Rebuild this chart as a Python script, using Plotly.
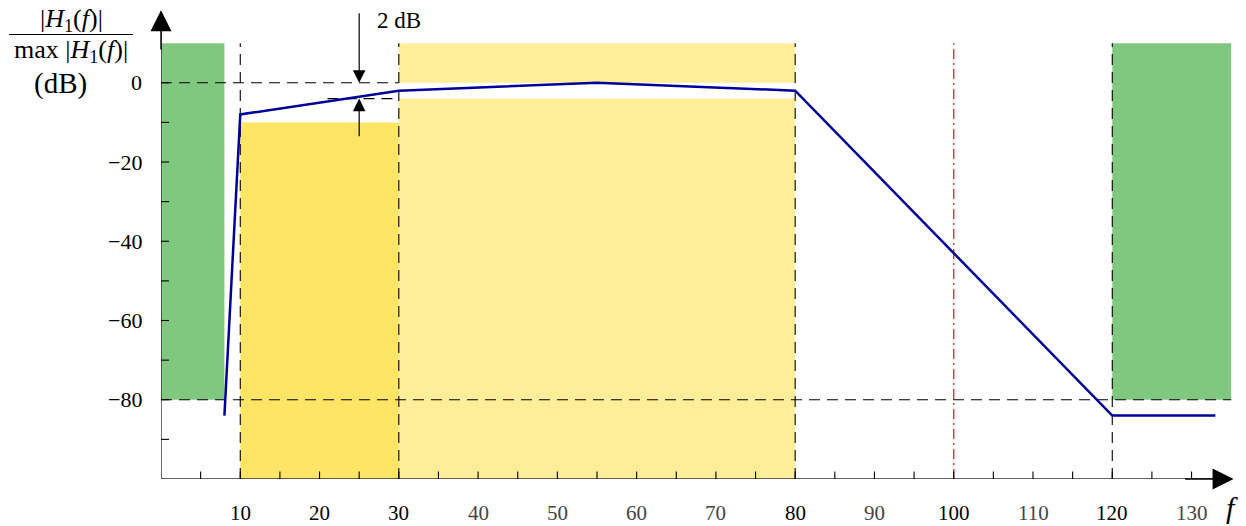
import plotly.graph_objects as go

# ---------------- data ----------------
freq = [8, 10, 30, 55, 80, 120, 133]
gain_db = [-84, -8, -2, 0, -2, -84, -84]

# stopband masks (green): x0, x1, y0, y1
stop_x0 = [0, 120]
stop_x1 = [8, 135]
stop_y0 = [-80, -80]
stop_y1 = [10, 10]

# passband masks (yellow)
pass_x0 = [10, 30, 30]
pass_x1 = [30, 80, 80]
pass_y0 = [-100, -100, 0]
pass_y1 = [-10, -4, 10]
pass_col = ["#FEE566", "#FEEE9A", "#FEEE9A"]

x_tick_labels = [10, 20, 30, 40, 50, 60, 70, 80, 90, 100, 110, 120, 130]
x_tick_strong = [10, 20, 30, 80, 100, 120]
x_minor = list(range(5, 131, 5))
y_tick_labels = [0, -20, -40, -60, -80]
y_minor = list(range(0, -91, -10))

vlines_dashed = [10, 30, 80, 120]
red_line_x = 100
ripple_db = -4

# ---------------- layout geometry ----------------
L, R, T, B = 161, 6, 8, 47
W, H = 1246, 526
pw, ph = W - L - R, H - T - B
px_per_x = 872 / 110.0
px_per_y = 317 / 80.0
xr = [0, pw / px_per_x]
yr = [-100, -100 + ph / px_per_y]

def pxx(px):
    return (px - L) / pw

def pxy(py):
    return (H - B - py) / ph

FONT = "Liberation Serif"
fig = go.Figure()
shapes = []
ann = []

for x0, x1, y0, y1 in zip(stop_x0, stop_x1, stop_y0, stop_y1):
    shapes.append(dict(type="rect", xref="x", yref="y", x0=x0, x1=x1, y0=y0, y1=y1,
                       fillcolor="#80C880", line=dict(width=0), layer="below"))
for x0, x1, y0, y1, c in zip(pass_x0, pass_x1, pass_y0, pass_y1, pass_col):
    shapes.append(dict(type="rect", xref="x", yref="y", x0=x0, x1=x1, y0=y0, y1=y1,
                       fillcolor=c, line=dict(width=0), layer="below"))

dash = dict(color="black", width=1.1, dash="11px,7px")
for xv in vlines_dashed:
    shapes.append(dict(type="line", xref="x", yref="y", x0=xv, x1=xv, y0=-100, y1=10,
                       line=dash, layer="below"))
shapes.append(dict(type="line", xref="x", yref="y", x0=0, x1=30, y0=0, y1=0, line=dash, layer="below"))
shapes.append(dict(type="line", xref="x", yref="y", x0=21, x1=30, y0=ripple_db, y1=ripple_db, line=dash, layer="below"))
shapes.append(dict(type="line", xref="x", yref="y", x0=0, x1=135, y0=-80, y1=-80, line=dash, layer="below"))

# red dash-dot line
shapes.append(dict(type="line", xref="x", yref="y", x0=red_line_x, x1=red_line_x, y0=-100, y1=10,
                   line=dict(color="#D42A2A", width=1.3, dash="10px,4px,2px,4px"), layer="below"))

# axes
axc = "#333333"
shapes.append(dict(type="line", xref="x", yref="y", x0=0, x1=134, y0=-100, y1=-100, line=dict(color=axc, width=1.4)))
shapes.append(dict(type="line", xref="x", yref="y", x0=0, x1=0, y0=-100, y1=16, line=dict(color=axc, width=1.4)))

tx = 7.5 / px_per_y
for xv in x_minor:
    shapes.append(dict(type="line", xref="x", yref="y", x0=xv, x1=xv, y0=-100 - tx, y1=-100 + tx,
                       line=dict(color="black", width=1.1)))
ty = 8 / px_per_x
for yv in y_minor:
    shapes.append(dict(type="line", xref="x", yref="y", x0=-ty, x1=ty, y0=yv, y1=yv,
                       line=dict(color="black", width=1.1)))

tiny = dict(size=1, color="black")
# axis arrows
ann.append(dict(x=135.3, y=-100, ax=129, ay=-100, xref="x", yref="y", axref="x", ayref="y",
                showarrow=True, arrowhead=2, arrowsize=3.0, arrowwidth=1.4, arrowcolor="black",
                text="", font=tiny))
ann.append(dict(x=0, y=18.3, ax=0, ay=8, xref="x", yref="y", axref="x", ayref="y",
                showarrow=True, arrowhead=2, arrowsize=3.0, arrowwidth=1.4, arrowcolor="black",
                text="", font=tiny))

# 2 dB arrows
ann.append(dict(x=25, y=0, ax=25, ay=17.9, xref="x", yref="y", axref="x", ayref="y",
                showarrow=True, arrowhead=2, arrowsize=2.1, arrowwidth=1.2, arrowcolor="black",
                text="", font=tiny))
ann.append(dict(x=25, y=ripple_db, ax=25, ay=-13.9, xref="x", yref="y", axref="x", ayref="y",
                showarrow=True, arrowhead=2, arrowsize=2.1, arrowwidth=1.2, arrowcolor="black",
                text="", font=tiny))
ann.append(dict(x=pxx(375), y=pxy(21), xref="paper", yref="paper", text="2 dB", showarrow=False,
                xanchor="left", yanchor="middle", font=dict(family=FONT, size=23, color="black")))

# tick labels
for xv in x_tick_labels:
    ann.append(dict(x=xv, y=0, xref="x", yref="paper", yshift=-34, text=str(xv), showarrow=False,
                    yanchor="middle", font=dict(family=FONT, size=21,
                                                color="black" if xv in x_tick_strong else "#444444")))
for yv in y_tick_labels:
    ann.append(dict(x=0, y=yv, xref="paper", yref="y", xshift=-17, text=("\u2212" + str(-yv)) if yv < 0 else str(yv),
                    showarrow=False, xanchor="right", yanchor="middle",
                    font=dict(family=FONT, size=22, color="black")))

# f label
ann.append(dict(x=pxx(1232), y=pxy(507), xref="paper", yref="paper", text="<i>f</i>", showarrow=False,
                xanchor="center", yanchor="middle", font=dict(family=FONT, size=30, color="black")))

# y label (fraction)
ann.append(dict(x=pxx(71), y=pxy(20), xref="paper", yref="paper",
                text="|<i>H</i><sub>1</sub>(<i>f</i>)|", showarrow=False,
                xanchor="center", yanchor="middle", font=dict(family=FONT, size=26, color="black")))
shapes.append(dict(type="line", xref="paper", yref="paper", x0=pxx(9), x1=pxx(133), y0=pxy(34.5), y1=pxy(34.5),
                   line=dict(color="black", width=1.2)))
ann.append(dict(x=pxx(70.5), y=pxy(51), xref="paper", yref="paper",
                text="max |<i>H</i><sub>1</sub>(<i>f</i>)|", showarrow=False,
                xanchor="center", yanchor="middle", font=dict(family=FONT, size=26, color="black")))
ann.append(dict(x=pxx(60), y=pxy(84), xref="paper", yref="paper", text="(dB)", showarrow=False,
                xanchor="center", yanchor="middle", font=dict(family=FONT, size=29, color="black")))

# response curve
fig.add_trace(go.Scatter(x=freq, y=gain_db, mode="lines", line=dict(color="#00009A", width=2.5),
                         hoverinfo="skip", showlegend=False, cliponaxis=False))

fig.update_layout(
    width=W, height=H, margin=dict(l=L, r=R, t=T, b=B, autoexpand=False),
    paper_bgcolor="white", plot_bgcolor="white",
    xaxis=dict(range=xr, visible=False, fixedrange=True),
    yaxis=dict(range=yr, visible=False, fixedrange=True),
    shapes=shapes, annotations=ann, showlegend=False,
)
fig.write_html("out.html", config={"displayModeBar": False},
               post_script="document.body.style.margin='0px';document.body.style.overflow='hidden';")
